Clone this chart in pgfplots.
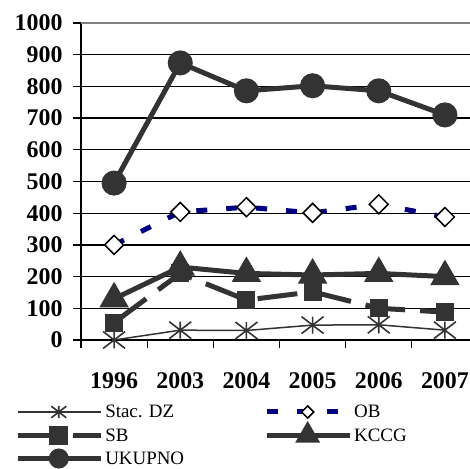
\documentclass[border=0pt]{standalone}
\usepackage{fontspec}
\setmainfont{Liberation Serif}
\usepackage{pgfplots}
\pgfplotsset{compat=1.18}
\definecolor{dgray}{HTML}{333333}
\definecolor{obnavy}{HTML}{000080}
\pgfdeclareplotmark{xstar}{%
  \pgfpathmoveto{\pgfqpoint{0pt}{-0.77\pgfplotmarksize}}\pgfpathlineto{\pgfqpoint{0pt}{0.77\pgfplotmarksize}}%
  \pgfpathmoveto{\pgfqpoint{-\pgfplotmarksize}{-0.77\pgfplotmarksize}}\pgfpathlineto{\pgfqpoint{\pgfplotmarksize}{0.77\pgfplotmarksize}}%
  \pgfpathmoveto{\pgfqpoint{-\pgfplotmarksize}{0.77\pgfplotmarksize}}\pgfpathlineto{\pgfqpoint{\pgfplotmarksize}{-0.77\pgfplotmarksize}}%
  \pgfusepathqstroke}
\pgfplotsset{
  stacstyle/.style={dgray, line width=1.5bp, mark=xstar, mark options={line width=1.6bp}},
  obstyle/.style={obnavy, line width=5bp, dash pattern=on 11bp off 19bp, mark=square*,
    mark options={solid, rotate=45, fill=white, draw=black, line width=1.5bp}},
  sbstyle/.style={dgray, line width=5bp, dash pattern=on 40bp off 15bp, mark=square*,
    mark options={solid, fill=dgray}},
  kccgstyle/.style={dgray, line width=5bp, mark=triangle*, mark options={fill=dgray}},
  ukstyle/.style={dgray, line width=5bp, mark=*, mark options={fill=dgray}},
}
\begin{document}
\begin{tikzpicture}[x=1bp,y=1bp]
\useasboundingbox (0,0) rectangle (470,469);
\begin{axis}[
  at={(81bp,129bp)}, anchor=south west,
  width=397bp, height=317bp, scale only axis,
  xmin=-0.5, xmax=5.5, ymin=0, ymax=1000,
  axis x line*=bottom, axis y line*=left,
  axis line style={black, line width=1.5bp},
  xtick={-0.5,0.5,...,5.5}, x tick label as interval,
  xticklabels={1996,2003,2004,2005,2006,2007},
  ytick={0,100,...,900},
  extra y ticks={1000},
  extra y tick style={major grid style={gray, line width=1.5bp}},
  yticklabel={\pgfmathprintnumber[1000 sep={}]{\tick}},
  ymajorgrids, major grid style={black, line width=1.3bp},
  tick align=outside, major tick length=8bp,
  tick style={black, line width=1.3bp},
  /pgf/number format/assume math mode=true,
  ticklabel style={font=\bfseries\fontsize{24}{24}\selectfont},
  xticklabel style={yshift=-21bp},
  yticklabel style={xshift=-7bp},
  legend columns=2,
  legend cell align=left,
  legend style={draw=none, fill=none, at={(-0.166,-0.198)}, anchor=north west,
    font=\fontsize{19}{21}\selectfont, inner sep=0pt, row sep=5bp,
    nodes={inner sep=2bp},
    /tikz/every odd column/.append style={column sep=0bp},
    /tikz/every even column/.append style={column sep=78bp}},
  legend image code/.code={\draw[mark repeat=2, mark phase=2, #1] plot coordinates {(0bp,0bp) (41bp,0bp) (83bp,0bp)};},
]
\addplot[stacstyle, mark size=11bp, forget plot]
  coordinates {(0,0) (1,31) (2,30) (3,47) (4,48) (5,31)};
\addplot[obstyle, mark size=6.7bp, forget plot]
  coordinates {(0,300) (1,404) (2,419) (3,401) (4,428) (5,388)};
\addplot[sbstyle, mark size=6.5bp, forget plot]
  coordinates {(0,55) (1,210) (2,126) (3,152) (4,100) (5,88)};
\addplot[kccgstyle, mark size=12bp, forget plot]
  coordinates {(0,130) (1,230) (2,210) (3,205) (4,210) (5,200)};
\addplot[ukstyle, mark size=10bp, forget plot]
  coordinates {(0,495) (1,874) (2,786) (3,802) (4,786) (5,710)};
\addlegendimage{stacstyle, mark size=7.5bp}
\addlegendentry{Stac. DZ}
\addlegendimage{obstyle, mark size=4.3bp}
\addlegendentry{OB}
\addlegendimage{sbstyle, mark size=7bp}
\addlegendentry{SB}
\addlegendimage{kccgstyle, mark size=9.5bp}
\addlegendentry{KCCG}
\addlegendimage{ukstyle, mark size=7.5bp}
\addlegendentry{UKUPNO}
\end{axis}
\end{tikzpicture}
\end{document}
